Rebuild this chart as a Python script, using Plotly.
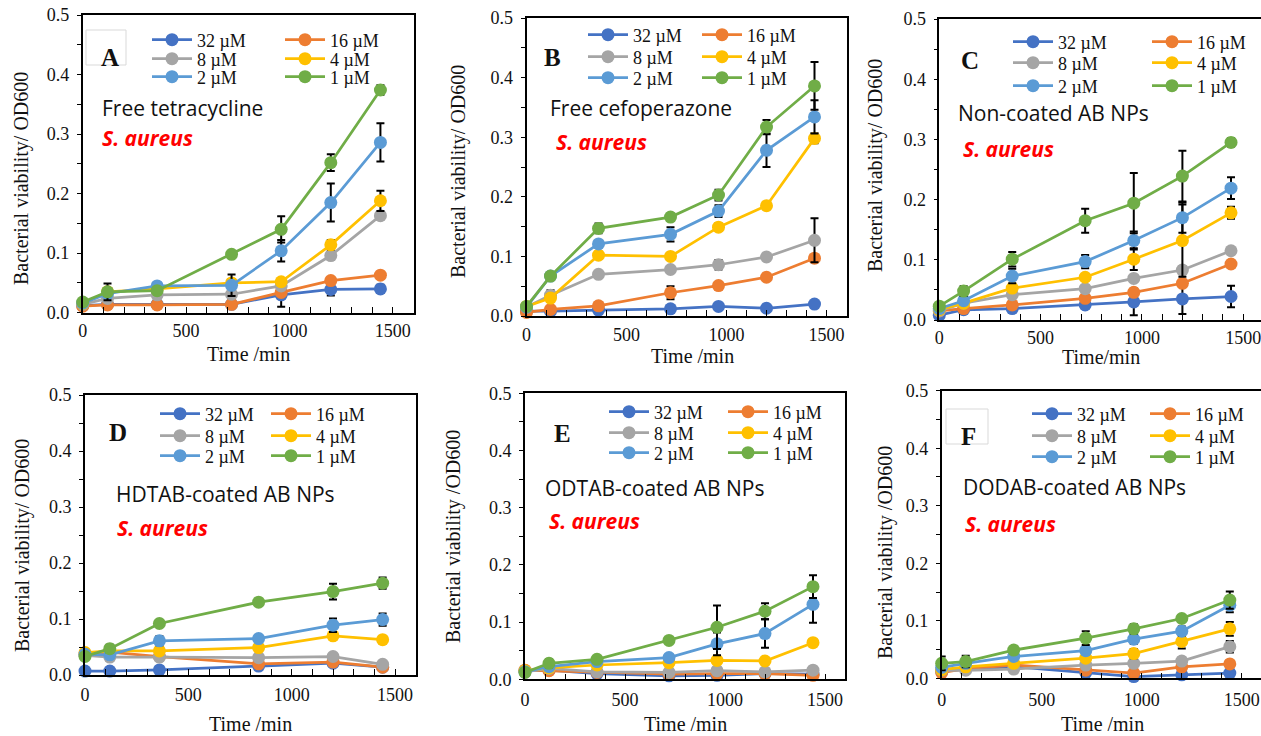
import plotly.graph_objects as go

W, H = 1261, 736

# ---------------- data ----------------
conc_labels = ["32 µM", "16 µM", "8 µM", "4 µM", "2 µM", "1 µM"]
colors = ["#4472C4", "#ED7D31", "#A5A5A5", "#FFC000", "#5B9BD5", "#70AD47"]

time_std = [0, 120, 360, 720, 960, 1200, 1440]
time_D = [0, 120, 360, 840, 1200, 1440]

A_y = [
    [0.012, 0.014, 0.014, 0.014, 0.030, 0.039, 0.040],
    [0.011, 0.013, 0.013, 0.014, 0.034, 0.054, 0.063],
    [0.014, 0.024, 0.030, 0.031, 0.045, 0.096, 0.163],
    [0.015, 0.035, 0.040, 0.050, 0.052, 0.114, 0.188],
    [0.016, 0.032, 0.045, 0.046, 0.104, 0.185, 0.286],
    [0.018, 0.035, 0.037, 0.098, 0.140, 0.252, 0.374],
]
A_err = [
    [0.002, 0.003, 0.003, 0.003, 0.020, 0.010, 0.007],
    [0.002, 0.003, 0.003, 0.003, 0.004, 0.004, 0.004],
    [0.002, 0.005, 0.004, 0.005, 0.006, 0.006, 0.005],
    [0.002, 0.005, 0.005, 0.006, 0.005, 0.008, 0.017],
    [0.002, 0.005, 0.005, 0.018, 0.018, 0.032, 0.032],
    [0.002, 0.014, 0.005, 0.004, 0.022, 0.014, 0.008],
]
B_y = [
    [0.008, 0.008, 0.010, 0.012, 0.016, 0.013, 0.020],
    [0.006, 0.011, 0.017, 0.039, 0.051, 0.065, 0.097],
    [0.015, 0.035, 0.070, 0.078, 0.086, 0.099, 0.127],
    [0.016, 0.030, 0.102, 0.100, 0.149, 0.185, 0.298],
    [0.015, 0.067, 0.121, 0.137, 0.176, 0.278, 0.334],
    [0.016, 0.067, 0.147, 0.166, 0.203, 0.317, 0.386],
]
B_err = [
    [0.002, 0.002, 0.002, 0.003, 0.003, 0.003, 0.003],
    [0.002, 0.003, 0.006, 0.011, 0.005, 0.004, 0.005],
    [0.002, 0.008, 0.004, 0.004, 0.008, 0.004, 0.037],
    [0.002, 0.006, 0.006, 0.004, 0.006, 0.006, 0.008],
    [0.002, 0.004, 0.005, 0.012, 0.010, 0.028, 0.028],
    [0.002, 0.004, 0.008, 0.006, 0.009, 0.012, 0.040],
]
C_y = [
    [0.008, 0.017, 0.019, 0.025, 0.030, 0.035, 0.039],
    [0.015, 0.019, 0.025, 0.036, 0.046, 0.061, 0.093],
    [0.015, 0.028, 0.042, 0.052, 0.069, 0.083, 0.115],
    [0.017, 0.028, 0.053, 0.071, 0.101, 0.132, 0.178],
    [0.019, 0.032, 0.073, 0.097, 0.132, 0.170, 0.219],
    [0.023, 0.048, 0.101, 0.165, 0.194, 0.239, 0.295],
]
C_err = [
    [0.002, 0.003, 0.004, 0.006, 0.022, 0.025, 0.018],
    [0.002, 0.003, 0.004, 0.004, 0.006, 0.005, 0.005],
    [0.002, 0.004, 0.004, 0.004, 0.005, 0.006, 0.004],
    [0.002, 0.004, 0.006, 0.005, 0.018, 0.060, 0.010],
    [0.002, 0.005, 0.012, 0.011, 0.015, 0.025, 0.018],
    [0.002, 0.008, 0.012, 0.020, 0.050, 0.042, 0.007],
]
D_y = [
    [0.007, 0.007, 0.009, 0.016, 0.021, 0.014],
    [0.037, 0.041, 0.033, 0.020, 0.023, 0.014],
    [0.035, 0.032, 0.032, 0.031, 0.033, 0.019],
    [0.040, 0.043, 0.043, 0.049, 0.070, 0.063],
    [0.037, 0.036, 0.061, 0.065, 0.089, 0.099],
    [0.033, 0.047, 0.092, 0.130, 0.149, 0.164],
]
D_err = [
    [0.002, 0.002, 0.006, 0.003, 0.003, 0.003],
    [0.003, 0.004, 0.003, 0.003, 0.003, 0.003],
    [0.003, 0.003, 0.003, 0.003, 0.003, 0.003],
    [0.003, 0.004, 0.006, 0.003, 0.006, 0.006],
    [0.003, 0.004, 0.008, 0.004, 0.012, 0.011],
    [0.003, 0.007, 0.004, 0.004, 0.014, 0.010],
]
E_y = [
    [0.015, 0.016, 0.010, 0.006, 0.007, 0.010, 0.009],
    [0.016, 0.015, 0.012, 0.009, 0.010, 0.010, 0.007],
    [0.013, 0.019, 0.013, 0.012, 0.015, 0.013, 0.016],
    [0.015, 0.020, 0.025, 0.029, 0.033, 0.032, 0.064],
    [0.013, 0.022, 0.031, 0.038, 0.062, 0.080, 0.131],
    [0.012, 0.028, 0.035, 0.068, 0.091, 0.119, 0.162],
]
E_err = [
    [0.002, 0.003, 0.002, 0.002, 0.002, 0.002, 0.002],
    [0.002, 0.003, 0.002, 0.002, 0.002, 0.002, 0.002],
    [0.002, 0.003, 0.002, 0.002, 0.002, 0.002, 0.002],
    [0.002, 0.003, 0.003, 0.003, 0.003, 0.003, 0.003],
    [0.002, 0.004, 0.003, 0.004, 0.020, 0.025, 0.032],
    [0.002, 0.007, 0.004, 0.005, 0.038, 0.014, 0.020],
]
F_y = [
    [0.012, 0.016, 0.020, 0.010, 0.003, 0.006, 0.009],
    [0.010, 0.017, 0.023, 0.014, 0.009, 0.020, 0.025],
    [0.014, 0.014, 0.016, 0.023, 0.026, 0.030, 0.055],
    [0.015, 0.020, 0.026, 0.035, 0.043, 0.064, 0.086],
    [0.019, 0.026, 0.038, 0.048, 0.068, 0.082, 0.127],
    [0.026, 0.029, 0.049, 0.070, 0.086, 0.104, 0.136],
]
F_err = [
    [0.004, 0.004, 0.004, 0.004, 0.004, 0.004, 0.004],
    [0.004, 0.004, 0.004, 0.004, 0.004, 0.004, 0.004],
    [0.004, 0.004, 0.004, 0.004, 0.004, 0.006, 0.010],
    [0.004, 0.004, 0.004, 0.004, 0.008, 0.012, 0.012],
    [0.004, 0.004, 0.004, 0.006, 0.008, 0.008, 0.012],
    [0.012, 0.010, 0.004, 0.012, 0.008, 0.006, 0.015],
]

# ---------------- layout helpers ----------------
def px_x(p):
    return p / W

def px_y(p):
    return 1 - p / H

SERIF = "Liberation Serif, Times New Roman, serif"
SANS = "Open Sans, Noto Sans, sans-serif"

panels = [
    dict(letter="A", t=time_std, y=A_y, e=A_err, xd=(82.7, 413.5), yd=(15, 312.7), xmax=1600, xso=1,
         ytitle="Bacterial viability/ OD600", ypos=(22, 179), xtitle="Time /min", xpos=(248, 354),
         lpos=(152, 285, [40, 59, 77]), letpos=(110, 57), box=(86, 30, 126, 65),
         name="Free tetracycline", npos=(100, 108), spos=(100, 138)),
    dict(letter="B", t=time_std, y=B_y, e=B_err, xd=(526.5, 846.5), yd=(18, 316), xmax=1600, xso=2,
         ytitle="Bacterial viability/ OD600", ypos=(458, 172), xtitle="Time /min", xpos=(692, 356),
         lpos=(588, 702, [35, 57, 78]), letpos=(552, 58), box=None,
         name="Free cefoperazone", npos=(548, 108), spos=(554, 142)),
    dict(letter="C", t=time_std, y=C_y, e=C_err, xd=(939.3, 1261), yd=(19, 320), xmax=1588, xso=1,
         ytitle="Bacterial viability/ OD600", ypos=(875, 166), xtitle="Time/min", xpos=(1101, 357),
         lpos=(1013, 1152, [42, 63, 86]), letpos=(970, 60), box=None,
         name="Non-coated AB NPs", npos=(956, 113), spos=(961, 149)),
    dict(letter="D", t=time_D, y=D_y, e=D_err, xd=(85, 415.7), yd=(395, 675), xmax=1600, xso=3,
         ytitle="Bacterial viability/ OD600", ypos=(22, 546), xtitle="Time /min", xpos=(251, 724),
         lpos=(160, 271, [414, 436, 456]), letpos=(118, 432), box=None,
         name="HDTAB-coated AB NPs", npos=(114, 494), spos=(115, 528)),
    dict(letter="E", t=time_std, y=E_y, e=E_err, xd=(525, 845), yd=(393.3, 679.3), xmax=1600, xso=3,
         ytitle="Bacterial viability /OD600", ypos=(453, 537), xtitle="Time /min", xpos=(685, 724),
         lpos=(609, 728, [412, 433, 453]), letpos=(562, 433), box=None,
         name="ODTAB-coated AB NPs", npos=(543, 488), spos=(547, 521)),
    dict(letter="F", t=time_std, y=F_y, e=F_err, xd=(941.7, 1261), yd=(390.7, 678.3), xmax=1596, xso=4,
         ytitle="Bacterial viability /OD600", ypos=(885, 552), xtitle="Time /min", xpos=(1102, 724),
         lpos=(1032, 1150, [414, 436, 457]), letpos=(968, 436), box=(946, 409, 988, 444),
         name="DODAB-coated AB NPs", npos=(961, 487), spos=(963, 524)),
]

fig = go.Figure()
annotations = []
shapes = []
legend_layouts = {}
leg_idx = 0

for pi, p in enumerate(panels):
    sfx = "" if pi == 0 else str(pi + 1)
    xa, ya = "x" + sfx, "y" + sfx
    for si in range(6):
        leg_idx += 1
        lname = "legend" if leg_idx == 1 else f"legend{leg_idx}"
        fig.add_trace(go.Scatter(
            x=p["t"], y=p["y"][si], name=conc_labels[si], mode="lines+markers",
            line=dict(color=colors[si], width=2.75),
            marker=dict(color=colors[si], size=13),
            error_y=dict(type="data", array=p["e"][si], visible=True,
                         color="black", thickness=2, width=4),
            xaxis=xa, yaxis=ya, cliponaxis=False, legend=lname, showlegend=True,
        ))
        col = si % 2
        row = si // 2
        lx = p["lpos"][col]
        ly = p["lpos"][2][row]
        legend_layouts[lname] = dict(
            x=px_x(lx - 5), y=px_y(ly), xanchor="left", yanchor="middle",
            orientation="h", bgcolor="rgba(0,0,0,0)", borderwidth=0,
            itemwidth=40, font=dict(family=SERIF, size=18, color="#111"),
            tracegroupgap=0,
        )

    xkey = "xaxis" + sfx
    ykey = "yaxis" + sfx
    fig.layout[xkey] = dict(
        domain=[px_x(p["xd"][0]), px_x(p["xd"][1])], anchor=ya, automargin=False,
        range=[0, p["xmax"]], tickvals=[0, 500, 1000, 1500], ticklabeloverflow="allow",
        ticks="inside", ticklen=6, tickwidth=1.3, tickcolor="black",
        minor=dict(dtick=100, tick0=0, ticks="inside", ticklen=6, tickwidth=1.3, tickcolor="black"),
        showline=True, linecolor="black", linewidth=1.6, mirror=True,
        showgrid=False, zeroline=False, ticklabelstandoff=p["xso"],
        tickfont=dict(family=SERIF, size=18, color="#111"),
    )
    fig.layout[ykey] = dict(
        domain=[px_y(p["yd"][1]), px_y(p["yd"][0])], anchor=xa, automargin=False,
        range=[0, 0.5], dtick=0.1, tick0=0, tickformat=".1f", ticklabeloverflow="allow",
        ticks="outside", ticklen=4, tickwidth=1.3, tickcolor="black",
        minor=dict(dtick=0.05, tick0=0, ticks="outside", ticklen=4, tickwidth=1.3, tickcolor="black"),
        showline=True, linecolor="black", linewidth=1.6, mirror=True,
        showgrid=False, zeroline=False, ticklabelstandoff=4,
        tickfont=dict(family=SERIF, size=18, color="#111"),
    )

    annotations.append(dict(
        text=p["ytitle"], x=px_x(p["ypos"][0]), y=px_y(p["ypos"][1]), xref="paper", yref="paper",
        textangle=-90, showarrow=False, xanchor="center", yanchor="middle",
        font=dict(family=SERIF, size=20, color="#111")))
    annotations.append(dict(
        text=p["xtitle"], x=px_x(p["xpos"][0]), y=px_y(p["xpos"][1]), xref="paper", yref="paper",
        showarrow=False, xanchor="center", yanchor="middle",
        font=dict(family=SERIF, size=20, color="#111")))
    annotations.append(dict(
        text="<b>" + p["letter"] + "</b>", x=px_x(p["letpos"][0]), y=px_y(p["letpos"][1]),
        xref="paper", yref="paper", showarrow=False, xanchor="center", yanchor="middle",
        font=dict(family=SERIF, size=25, color="#111")))
    annotations.append(dict(
        text=p["name"], x=px_x(p["npos"][0]), y=px_y(p["npos"][1]), xref="paper", yref="paper",
        showarrow=False, xanchor="left", yanchor="middle",
        font=dict(family=SANS, size=21, color="#111")))
    annotations.append(dict(
        text="<b><i>S. aureus</i></b>", x=px_x(p["spos"][0]), y=px_y(p["spos"][1]),
        xref="paper", yref="paper", showarrow=False, xanchor="left", yanchor="middle",
        font=dict(family=SANS, size=21, color="#FF0000")))
    if p["box"]:
        b = p["box"]
        shapes.append(dict(type="rect", xref="paper", yref="paper",
                           x0=px_x(b[0]), x1=px_x(b[2]), y0=px_y(b[3]), y1=px_y(b[1]),
                           line=dict(color="#D9D9D9", width=1), fillcolor="white", layer="below"))

fig.update_layout(
    template="none",
    width=W, height=H, margin=dict(l=0, r=0, t=0, b=0, pad=0, autoexpand=False),
    paper_bgcolor="white", plot_bgcolor="white",
    annotations=annotations, shapes=shapes, showlegend=True,
    **legend_layouts,
)

fig.write_html("out.html")
